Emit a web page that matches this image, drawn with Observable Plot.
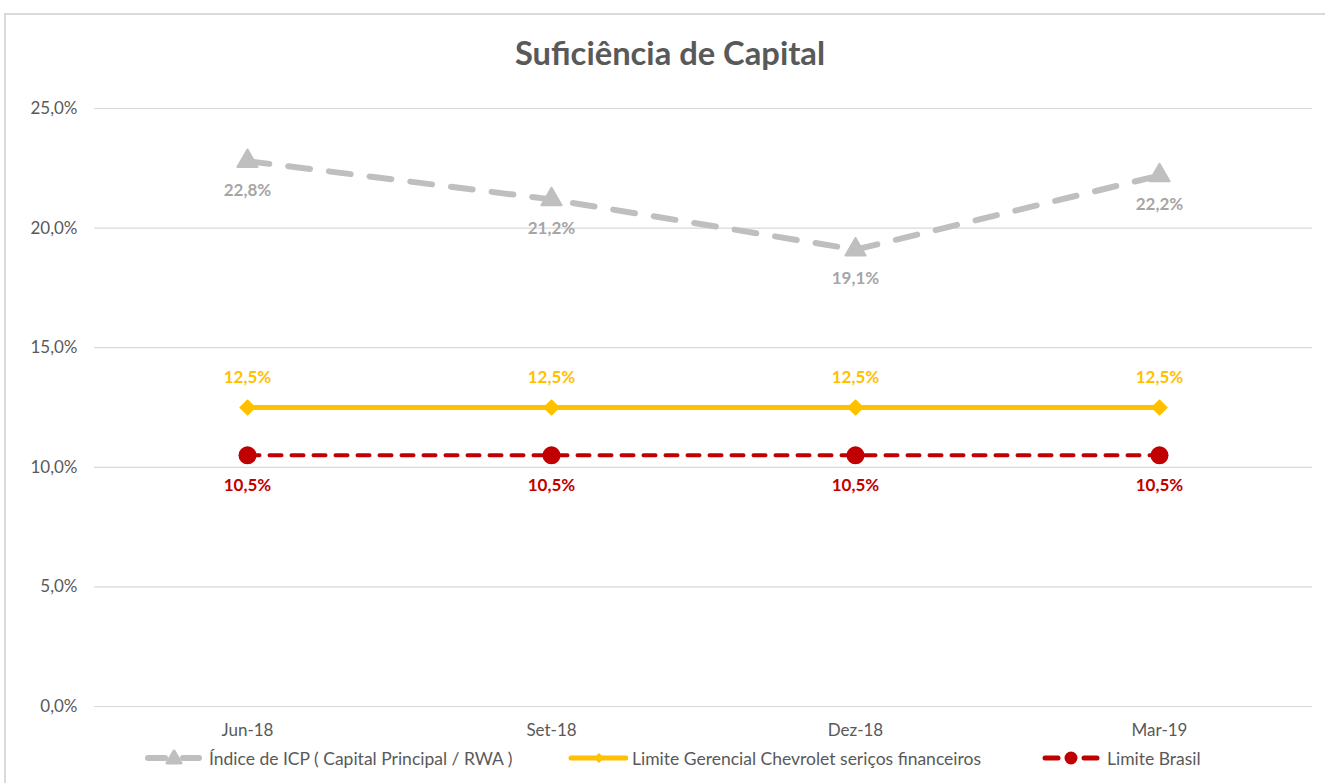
<!DOCTYPE html>
<html>
<head>
<meta charset="utf-8">
<script src="https://cdn.jsdelivr.net/npm/d3@7"></script>
<script src="https://cdn.jsdelivr.net/npm/@observablehq/plot@0.6"></script>
<style>
  html, body { margin: 0; padding: 0; background: #fff; width: 1325px; height: 783px; overflow: hidden; font-family: Lato, "Open Sans", sans-serif; }
  #frame { position: absolute; left: 4px; top: 13px; width: 1340px; height: 800px; border: 2px solid #d9d9d9; box-sizing: border-box; }
  #title { position: absolute; left: 0; top: 33px; width: 1340px; text-align: center; font-size: 32.7px; font-weight: bold; color: #595959; }
  #chart { position: absolute; left: 0; top: 80px; }
  #legend { position: absolute; top: 746px; left: 0; height: 24px; font-size: 17.5px; color: #595959; }
  .item { position: absolute; top: 0; display: flex; align-items: center; white-space: nowrap; }
  .item svg { margin-right: 4px; }
</style>
</head>
<body>
<div id="frame"></div>
<div id="title">Suficiência de Capital</div>
<div id="chart"></div>
<div id="legend"></div>
<script>
const periods = ["Jun-18", "Set-18", "Dez-18", "Mar-19"];
const icp = [22.8, 21.2, 19.1, 22.2];
const limiteGerencial = [12.5, 12.5, 12.5, 12.5];
const limiteBrasil = [10.5, 10.5, 10.5, 10.5];
const yTicks = [0, 5, 10, 15, 20, 25];
const seriesNames = ["Índice de ICP ( Capital Principal / RWA )", "Limite Gerencial Chevrolet seriços financeiros", "Limite Brasil"];

const fmt = v => v.toFixed(1).replace(".", ",") + "%";
const mk = arr => periods.map((p, i) => ({period: p, value: arr[i]}));
const dIcp = mk(icp), dGer = mk(limiteGerencial), dBr = mk(limiteBrasil);

const GRAY = "#bfbfbf", GRAYTXT = "#a6a6a6", YEL = "#ffc000", RED = "#c00000";

const chart = Plot.plot({
  width: 1325,
  height: 665,
  marginTop: 28,
  marginBottom: 39,
  marginLeft: 94,
  marginRight: 13,
  style: {fontFamily: "Lato, 'Open Sans', sans-serif", fontSize: "17px", color: "#595959", background: "transparent"},
  x: {type: "band", domain: periods, padding: 0, label: null},
  y: {domain: [0, 25], label: null},
  marks: [
    Plot.gridY(yTicks, {stroke: "#d9d9d9", strokeOpacity: 1, strokeWidth: 1.2}),
    Plot.axisY(yTicks, {tickSize: 0, tickPadding: 17, tickFormat: fmt, fontSize: 17, fill: "#595959"}),
    Plot.axisX({tickSize: 0, tickPadding: 17, fontSize: 17, fill: "#595959"}),
    Plot.line(dBr, {x: "period", y: "value", stroke: RED, strokeWidth: 4, strokeDasharray: "12,10", strokeLinecap: "round"}),
    Plot.line(dGer, {x: "period", y: "value", stroke: YEL, strokeWidth: 5}),
    Plot.line(dIcp, {x: "period", y: "value", stroke: GRAY, strokeWidth: 6, strokeDasharray: "22,19", strokeLinecap: "round"}),
    Plot.dot(dBr, {x: "period", y: "value", r: 9, fill: RED, symbol: "circle"}),
    Plot.dot(dGer, {x: "period", y: "value", r: 7, fill: YEL, stroke: YEL, strokeWidth: 1, symbol: "diamond2"}),
    Plot.dot(dIcp, {x: "period", y: "value", r: 7.5, fill: GRAY, stroke: GRAY, strokeWidth: 2, strokeLinejoin: "round", symbol: "triangle"}),
    Plot.text(dIcp, {x: "period", y: "value", text: d => fmt(d.value), dy: 29, fill: GRAYTXT, fontWeight: "bold", fontSize: 17}),
    Plot.text(dGer, {x: "period", y: "value", text: d => fmt(d.value), dy: -30, fill: YEL, fontWeight: "bold", fontSize: 17}),
    Plot.text(dBr, {x: "period", y: "value", text: d => fmt(d.value), dy: 30, fill: RED, fontWeight: "bold", fontSize: 17})
  ]
});
document.getElementById("chart").appendChild(chart);

// Legend
const legend = document.getElementById("legend");
const items = [
  {left: 145, name: seriesNames[0], svg: `<svg width="60" height="24"><line x1="3" y1="12" x2="20" y2="12" stroke="${GRAY}" stroke-width="6" stroke-linecap="round"/><line x1="38" y1="12" x2="54" y2="12" stroke="${GRAY}" stroke-width="6" stroke-linecap="round"/><path d="M29,5 L36,17 L22,17 Z" fill="${GRAY}" stroke="${GRAY}" stroke-width="3" stroke-linejoin="round"/></svg>`},
  {left: 568, name: seriesNames[1], svg: `<svg width="60" height="24"><line x1="3" y1="12" x2="58" y2="12" stroke="${YEL}" stroke-width="5" stroke-linecap="round"/><path d="M31,7 L36,12 L31,17 L26,12 Z" fill="${YEL}"/></svg>`},
  {left: 1041, name: seriesNames[2], svg: `<svg width="62" height="24"><line x1="4" y1="12" x2="17" y2="12" stroke="${RED}" stroke-width="5" stroke-linecap="round"/><line x1="43" y1="12" x2="56" y2="12" stroke="${RED}" stroke-width="5" stroke-linecap="round"/><circle cx="30" cy="12" r="6.5" fill="${RED}"/></svg>`}
];
for (const it of items) {
  const div = document.createElement("div");
  div.className = "item";
  div.style.left = it.left + "px";
  div.innerHTML = it.svg + `<span>${it.name}</span>`;
  legend.appendChild(div);
}
</script>
</body>
</html>
